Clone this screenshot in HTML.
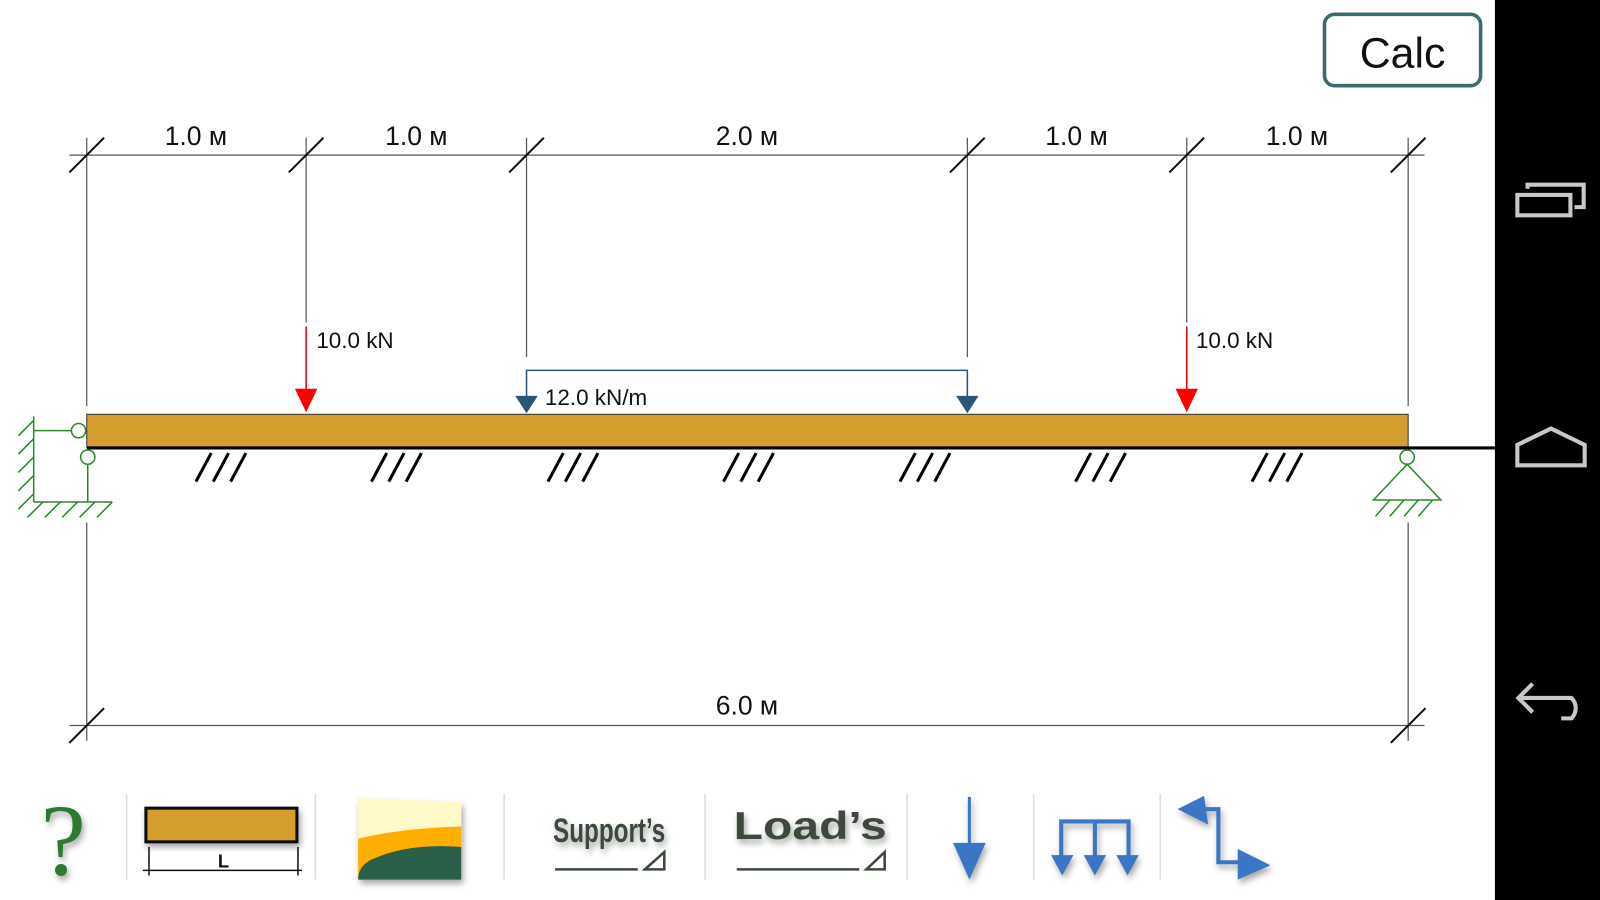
<!DOCTYPE html>
<html><head><meta charset="utf-8"><style>
html,body{margin:0;padding:0;background:#fff;overflow:hidden}
svg{display:block}
text{font-family:"Liberation Sans",sans-serif}
</style></head><body>
<svg width="1600" height="900" viewBox="0 0 1568 882" preserveAspectRatio="none" xmlns="http://www.w3.org/2000/svg">
<defs>
<filter id="sh" x="-20%" y="-20%" width="150%" height="150%"><feDropShadow dx="2" dy="4" stdDeviation="3" flood-color="#000" flood-opacity="0.35"/></filter>
</defs>
<rect width="1568" height="882" fill="#fff"/>
<rect x="1465" y="0" width="103" height="882" fill="#000"/>
<g fill="none" stroke="#c8c8c8" stroke-width="4">
<rect x="1487" y="191" width="52" height="20"/>
<path d="M1497 185 V181 H1552 V203 H1543"/>
<path d="M1487 456 V436 L1520 420 L1553 436 V456 Z"/>
<path d="M1502 670 L1488 684 L1502 698 M1488 684 H1540 A14 14 0 0 1 1540 704 H1530"/>
</g>
<rect x="1298" y="14" width="153" height="70" rx="10" fill="#fff" stroke="#3d6b6b" stroke-width="3.5"/>
<text x="1374.5" y="66" font-size="42" text-anchor="middle" fill="#111">Calc</text>
<g stroke="#555" stroke-width="1.2" fill="none">
<line x1="68" y1="152" x2="1396" y2="152"/>
<line x1="85" y1="135" x2="85" y2="398"/>
<line x1="300" y1="135" x2="300" y2="316"/>
<line x1="516" y1="135" x2="516" y2="350"/>
<line x1="948" y1="135" x2="948" y2="350"/>
<line x1="1163" y1="135" x2="1163" y2="316"/>
<line x1="1380" y1="135" x2="1380" y2="398"/>
<line x1="85" y1="512" x2="85" y2="726"/>
<line x1="1380" y1="512" x2="1380" y2="726"/>
<line x1="68" y1="711" x2="1396" y2="711"/>
</g>
<g stroke="#111" stroke-width="2">
<line x1="68" y1="169" x2="102" y2="135"/>
<line x1="283" y1="169" x2="317" y2="135"/>
<line x1="499" y1="169" x2="533" y2="135"/>
<line x1="931" y1="169" x2="965" y2="135"/>
<line x1="1146" y1="169" x2="1180" y2="135"/>
<line x1="1363" y1="169" x2="1397" y2="135"/>
<line x1="68" y1="728" x2="102" y2="694"/>
<line x1="1363" y1="728" x2="1397" y2="694"/>
</g>
<g font-size="26" text-anchor="middle" fill="#111">
<text x="192" y="142">1.0 м</text>
<text x="408" y="142">1.0 м</text>
<text x="732" y="142">2.0 м</text>
<text x="1055" y="142">1.0 м</text>
<text x="1271" y="142">1.0 м</text>
<text x="732" y="700">6.0 м</text>
</g>
<rect x="85" y="406" width="1295" height="32" fill="#d49d2e" stroke="#333" stroke-width="1"/>
<line x1="85" y1="439" x2="1465" y2="439" stroke="#000" stroke-width="3"/>
<g stroke="#000" stroke-width="3">
<path d="M207 444 L192 472 M224 444 L209 472 M241 444 L226 472"/>
<path d="M379 444 L364 472 M396 444 L381 472 M413 444 L398 472"/>
<path d="M552 444 L537 472 M569 444 L554 472 M586 444 L571 472"/>
<path d="M724 444 L709 472 M741 444 L726 472 M758 444 L743 472"/>
<path d="M897 444 L882 472 M914 444 L899 472 M931 444 L916 472"/>
<path d="M1069 444 L1054 472 M1086 444 L1071 472 M1103 444 L1088 472"/>
<path d="M1242 444 L1227 472 M1259 444 L1244 472 M1276 444 L1261 472"/>
</g>
<g stroke="#e00" stroke-width="1.5"><line x1="300" y1="320" x2="300" y2="384"/><line x1="1163" y1="320" x2="1163" y2="384"/></g>
<g fill="#f00"><path d="M289 381 H311 L300 404 Z"/><path d="M1152 381 H1174 L1163 404 Z"/></g>
<g font-size="22" fill="#111"><text x="310" y="341">10.0 kN</text><text x="1172" y="341">10.0 kN</text></g>
<path d="M516 390 V363 H948 V390" fill="none" stroke="#2a5578" stroke-width="1.5"/>
<g fill="#2a5578"><path d="M505 388 H527 L516 405 Z"/><path d="M937 388 H959 L948 405 Z"/></g>
<text x="534" y="397" font-size="22" fill="#111">12.0 kN/m</text>
<g stroke="#2a8a2a" stroke-width="1.5" fill="none">
<line x1="33" y1="408" x2="33" y2="492"/>
<path d="M33 412 L18 427 M33 430 L18 445 M33 448 L18 463 M33 466 L18 481 M33 484 L18 499"/>
<line x1="33" y1="422" x2="70" y2="422"/>
<circle cx="77" cy="422" r="7" fill="#fff"/>
<circle cx="86" cy="448" r="7" fill="#fff"/>
<line x1="86" y1="455" x2="86" y2="492"/>
<line x1="33" y1="492" x2="110" y2="492"/>
<path d="M42 492 L27 507 M59 492 L44 507 M76 492 L61 507 M93 492 L78 507 M110 492 L95 507"/>
</g>
<g stroke="#2a8a2a" stroke-width="1.5" fill="none">
<circle cx="1379" cy="448" r="7" fill="#fff"/>
<path d="M1379 455 L1346 490 H1412 Z"/>
<path d="M1362 490 L1348 506 M1376 490 L1362 506 M1390 490 L1376 506 M1404 490 L1390 506"/>
</g>
<g stroke="#ddd" stroke-width="1.5">
<line x1="124" y1="778" x2="124" y2="862"/><line x1="309" y1="778" x2="309" y2="862"/>
<line x1="494" y1="778" x2="494" y2="862"/><line x1="691" y1="778" x2="691" y2="862"/>
<line x1="889" y1="778" x2="889" y2="862"/><line x1="1013" y1="778" x2="1013" y2="862"/>
<line x1="1137" y1="778" x2="1137" y2="862"/>
</g>
<text x="62" y="857" font-size="100" style="font-family:'Liberation Serif',serif" text-anchor="middle" fill="#2f7a32" filter="url(#sh)">?</text>
<rect x="143" y="792" width="148" height="33" fill="#d49d2e" stroke="#111" stroke-width="3" filter="url(#sh)"/>
<g stroke="#111" stroke-width="1.5"><line x1="140" y1="853" x2="296" y2="853"/><line x1="146" y1="830" x2="146" y2="858"/><line x1="292" y1="830" x2="292" y2="858"/></g>
<text x="219" y="850" font-size="18" font-weight="bold" text-anchor="middle" fill="#111">L</text>
<g filter="url(#sh)">
<path d="M351 782 L452 786 V858 H351 Z" fill="#fff8c8"/>
<path d="M351 822 Q390 812 452 810 V858 H351 Z" fill="#ffae00"/>
<path d="M351 862 V860 Q352 848 365 842 Q400 826 452 830 V862 Z" fill="#2a6047"/>
</g>
<text x="597" y="825" font-size="34" font-weight="bold" text-anchor="middle" fill="#3c4a3c" filter="url(#sh)" textLength="110" lengthAdjust="spacingAndGlyphs">Support’s</text>
<g stroke="#3c4a3c" stroke-width="2.5" fill="none"><line x1="544" y1="852" x2="625" y2="852"/><path d="M632 852 L651 835 V852 Z"/></g>
<text x="794" y="822" font-size="38" font-weight="bold" text-anchor="middle" fill="#3c4a3c" filter="url(#sh)" textLength="150" lengthAdjust="spacingAndGlyphs">Load’s</text>
<g stroke="#3c4a3c" stroke-width="2.5" fill="none"><line x1="722" y1="852" x2="842" y2="852"/><path d="M849 852 L867 835 V852 Z"/></g>
<g fill="#3a76c4" stroke="#3a76c4" filter="url(#sh)">
<line x1="950" y1="781" x2="950" y2="830" stroke-width="3"/>
<path d="M934 826 H966 L950 862 Z" stroke="none"/>
<path d="M1040 840 V805 H1106 V840 M1073 805 V840" fill="none" stroke-width="4"/>
<path d="M1030 838 H1052 L1041 858 Z M1062 838 H1084 L1073 858 Z M1094 838 H1116 L1105 858 Z" stroke="none"/>
<path d="M1180 793 H1194 V845 H1215" fill="none" stroke-width="4"/>
<path d="M1154 793 L1180 780 L1184 808 Z M1213 832 L1245 848 L1213 862 Z" stroke="none"/>
</g>
</svg>
</body></html>
